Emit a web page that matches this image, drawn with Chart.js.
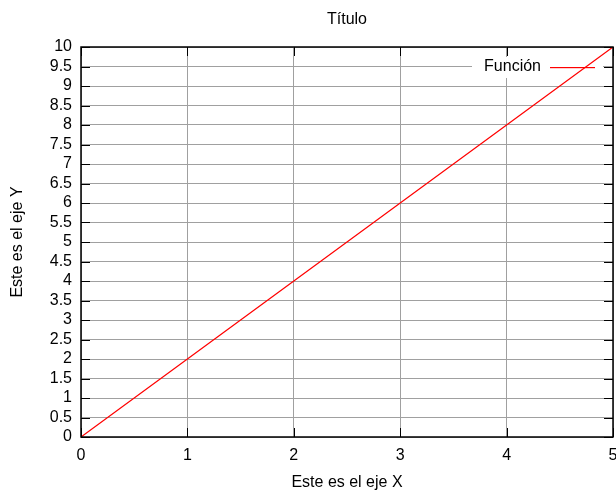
<!DOCTYPE html>
<html lang="es">

<head>
    <meta charset="UTF-8">
    <title>Título</title>
    <script src="https://cdn.jsdelivr.net/npm/chart.js@4.4.3/dist/chart.umd.min.js"></script>
    <style>
        html, body { margin: 0; padding: 0; background: #fff; }
        canvas { display: block; }
    </style>
</head>

<body>
    <canvas id="mychart" width="616" height="491"></canvas>

    <script>
        // values
        const xValues = [0, 1, 2, 3, 4, 5];
        const yValues = [0, 2, 4, 6, 8, 10];
        const xTicks = [0, 1, 2, 3, 4, 5];
        const yTicks = [0, 0.5, 1, 1.5, 2, 2.5, 3, 3.5, 4, 4.5, 5, 5.5, 6, 6.5, 7, 7.5, 8, 8.5, 9, 9.5, 10];
        const seriesName = 'Función';
        const chartTitle = 'Título';
        const xTitle = 'Este es el eje X';
        const yTitle = 'Este es el eje Y';

        const font = { family: '"Liberation Sans", Arial, sans-serif', size: 16 };

        // gnuplot style frame, inward ticks and legend box
        const framePlugin = {
            id: 'frame',
            beforeDatasetsDraw(chart) {
                const { ctx, chartArea: a, scales } = chart;
                ctx.save();
                // inward tick marks on all four sides
                ctx.strokeStyle = '#000';
                ctx.lineWidth = 1;
                ctx.beginPath();
                xTicks.forEach(v => {
                    const px = Math.round(scales.x.getPixelForValue(v)) + 0.5;
                    ctx.moveTo(px, a.bottom); ctx.lineTo(px, a.bottom - 9);
                    ctx.moveTo(px, a.top); ctx.lineTo(px, a.top + 9);
                });
                yTicks.forEach(v => {
                    const py = Math.round(scales.y.getPixelForValue(v)) + 0.5;
                    ctx.moveTo(a.left, py); ctx.lineTo(a.left + 9, py);
                    ctx.moveTo(a.right, py); ctx.lineTo(a.right - 9, py);
                });
                ctx.stroke();

                // legend key
                const ds = chart.data.datasets[0];
                const ly = 67;
                ctx.fillStyle = '#fff';
                ctx.fillRect(472, ly - 10, 131, 21);
                ctx.fillStyle = '#000';
                ctx.font = '16px "Liberation Sans", Arial, sans-serif';
                ctx.textAlign = 'right';
                ctx.textBaseline = 'middle';
                ctx.fillText(ds.label, 541, ly);
                ctx.fillStyle = ds.borderColor;
                ctx.fillRect(550, ly, 45, 1.2);
                ctx.restore();
            },
            afterDatasetsDraw(chart) {
                const { ctx, chartArea: a } = chart;
                ctx.save();
                ctx.strokeStyle = '#000';
                ctx.lineWidth = 1.5;
                ctx.strokeRect(a.left, a.top, a.right - a.left, a.bottom - a.top);
                ctx.restore();
            }
        };

        var data = {
            datasets: [
                {
                    label: seriesName,
                    data: xValues.map((x, i) => ({ x: x, y: yValues[i] })),
                    borderColor: '#ff0000',
                    borderWidth: 1.2,
                    pointRadius: 0,
                    tension: 0,
                    fill: false
                }
            ]
        };

        var config = {
            type: 'line',
            data: data,
            options: {
                responsive: false,
                animation: false,
                events: [],
                layout: { padding: { left: 0, right: 3, top: 0, bottom: 0 } },
                scales: {
                    x: {
                        type: 'linear',
                        min: 0,
                        max: 5,
                        afterFit: s => {
                            s.height = 54;
                            s.paddingLeft = 0;
                            s.paddingRight = 0;
                        },
                        afterBuildTicks: s => { s.ticks = xTicks.map(v => ({ value: v })); },
                        grid: { color: '#a0a0a0', lineWidth: 1, drawTicks: false },
                        border: { display: false },
                        ticks: {
                            color: '#000',
                            font: font,
                            padding: 9.4,
                            maxRotation: 0,
                            callback: v => String(v)
                        },
                        title: {
                            display: true,
                            text: xTitle,
                            color: '#000',
                            font: { ...font, lineHeight: 1 },
                            padding: { top: 0, bottom: 0 }
                        }
                    },
                    y: {
                        min: 0,
                        max: 10,
                        afterFit: s => {
                            s.width = 81;
                            s.paddingTop = 0;
                            s.paddingBottom = 0;
                        },
                        afterBuildTicks: s => { s.ticks = yTicks.map(v => ({ value: v })); },
                        grid: { color: '#a0a0a0', lineWidth: 1, drawTicks: false },
                        border: { display: false },
                        ticks: {
                            color: '#000',
                            font: font,
                            padding: 9,
                            autoSkip: false,
                            callback: v => String(v)
                        },
                        title: {
                            display: true,
                            text: yTitle,
                            color: '#000',
                            font: font,
                            padding: { top: 8.4, bottom: 0 }
                        }
                    }
                },
                plugins: {
                    legend: { display: false },
                    tooltip: { enabled: false },
                    title: {
                        display: true,
                        text: chartTitle,
                        fullSize: false,
                        color: '#000',
                        font: { ...font, weight: 'normal' },
                        padding: { top: 10, bottom: 17.8 }
                    }
                }
            },
            plugins: [framePlugin]
        };

        var mychart = new Chart(
            document.getElementById('mychart'),
            config
        );
    </script>
</body>

</html>
